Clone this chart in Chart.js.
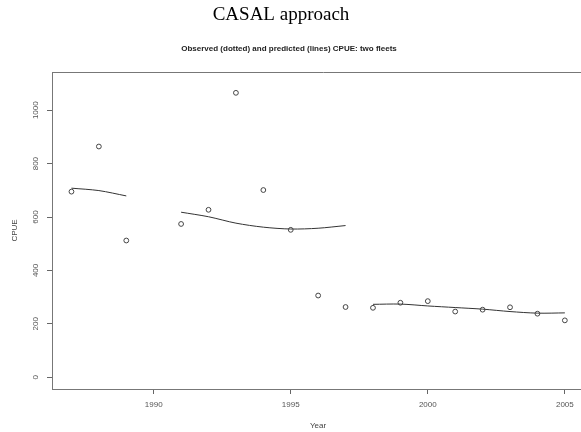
<!DOCTYPE html>
<html>
<head>
<meta charset="utf-8">
<script src="https://cdn.jsdelivr.net/npm/chart.js@4/dist/chart.umd.min.js"></script>
<style>
  html, body { margin: 0; padding: 0; background: #fff; overflow: hidden; }
  #wrap { width: 581px; height: 432px; overflow: hidden; }
</style>
</head>
<body>
<div id="wrap"><canvas id="cpueChart" width="600" height="432"></canvas></div>
<script>
// --- Data ---
const obsYears = [1987, 1988, 1989, 1991, 1992, 1993, 1994, 1995, 1996, 1997, 1998, 1999, 2000, 2001, 2002, 2003, 2004, 2005];
const obsCpue  = [695, 864, 512, 574, 627, 1065, 701, 552, 306, 263, 260, 279, 285, 246, 253, 262, 238, 213];

const fleet1Years = [1987, 1988, 1989];
const fleet1Pred  = [708, 699, 679];
const fleet2Years = [1991, 1992, 1993, 1994, 1995, 1996, 1997];
const fleet2Pred  = [618, 601, 577, 562, 555, 558, 568];
const fleet3Years = [1998, 1999, 2000, 2001, 2002, 2003, 2004, 2005];
const fleet3Pred  = [273, 274, 267, 261, 255, 246, 240, 241];

const xTicks = [1990, 1995, 2000, 2005];
const yTicks = [0, 200, 400, 600, 800, 1000];

const toPts = (xs, ys) => xs.map((x, i) => ({ x: x, y: ys[i] }));

function predLine(xs, ys) {
    return {
        type: 'line',
        data: toPts(xs, ys),
        borderColor: '#333',
        borderWidth: 1,
        pointRadius: 0,
        fill: false,
        tension: 0.3
    };
}

// --- Titles, frame top, rotated y labels (R style) ---
const framePlugin = {
    id: 'frame',
    afterDraw(chart) {
        const ctx = chart.ctx;
        const a = chart.chartArea;
        const ys = chart.scales.y;
        ctx.save();
        // titles
        ctx.fillStyle = '#000';
        ctx.textAlign = 'center';
        ctx.textBaseline = 'alphabetic';
        ctx.font = '19px "Liberation Serif", "Times New Roman", serif';
        ctx.fillText('CASAL approach', 281, 20);
        ctx.fillStyle = '#222';
        ctx.font = 'bold 8px "Liberation Sans", Arial, sans-serif';
        ctx.fillText('Observed (dotted) and predicted (lines) CPUE: two fleets', 289, 51);
        // x axis title
        ctx.fillStyle = '#444';
        ctx.font = '8px "Liberation Sans", Arial, sans-serif';
        ctx.textBaseline = 'middle';
        ctx.fillText('Year', 318, 426);
        // top of box
        ctx.strokeStyle = '#777';
        ctx.lineWidth = 1;
        ctx.beginPath();
        ctx.moveTo(a.left, a.top + 0.5);
        ctx.lineTo(a.right, a.top + 0.5);
        ctx.stroke();
        // y tick labels
        ctx.fillStyle = '#555';
        yTicks.forEach(v => {
            const py = ys.getPixelForValue(v);
            ctx.save();
            ctx.translate(36, py);
            ctx.rotate(-Math.PI / 2);
            ctx.fillText(String(v), 0, 0);
            ctx.restore();
        });
        ctx.restore();
    }
};

document.addEventListener("DOMContentLoaded", function () {
    const ctx = document.getElementById('cpueChart');
    new Chart(ctx, {
        type: 'scatter',
        data: {
            datasets: [
                {
                    data: toPts(obsYears, obsCpue),
                    pointStyle: 'circle',
                    pointRadius: 2.4,
                    pointBorderWidth: 1,
                    borderColor: '#444',
                    backgroundColor: 'rgba(0,0,0,0)'
                },
                predLine(fleet1Years, fleet1Pred),
                predLine(fleet2Years, fleet2Pred),
                predLine(fleet3Years, fleet3Pred)
            ]
        },
        options: {
            responsive: false,
            animation: false,
            layout: { padding: { left: 0, right: 0, top: 72, bottom: 0 } },
            plugins: {
                legend: { display: false },
                tooltip: { enabled: false },
                title: { display: false },
                subtitle: { display: false }
            },
            scales: {
                x: {
                    type: 'linear',
                    min: 1986.29,
                    max: 2006.1,
                    afterBuildTicks: s => { s.ticks = xTicks.map(v => ({ value: v })); },
                    afterFit: s => { s.height = 43; s.paddingLeft = 0; s.paddingRight = 0; },
                    ticks: {
                        color: '#555',
                        font: { family: '"Liberation Sans", Arial, sans-serif', size: 8 },
                        padding: 6,
                        maxRotation: 0,
                        callback: v => String(v)
                    },
                    grid: { drawOnChartArea: false, drawTicks: true, tickLength: 5, color: '#666' },
                    border: { display: true, color: '#777', width: 1 },
                    title: { display: false }
                },
                y: {
                    min: -44,
                    max: 1143,
                    afterBuildTicks: s => { s.ticks = yTicks.map(v => ({ value: v })); },
                    afterFit: s => { s.width = 52; s.paddingTop = 0; s.paddingBottom = 0; },
                    ticks: { display: false },
                    grid: { drawOnChartArea: false, drawTicks: true, tickLength: 5, color: '#666' },
                    border: { display: true, color: '#777', width: 1 },
                    title: {
                        display: true,
                        text: 'CPUE',
                        color: '#444',
                        font: { family: '"Liberation Sans", Arial, sans-serif', size: 8 },
                        padding: { top: 10, bottom: 0 }
                    }
                }
            }
        },
        plugins: [framePlugin]
    });
});
</script>
</body>
</html>
